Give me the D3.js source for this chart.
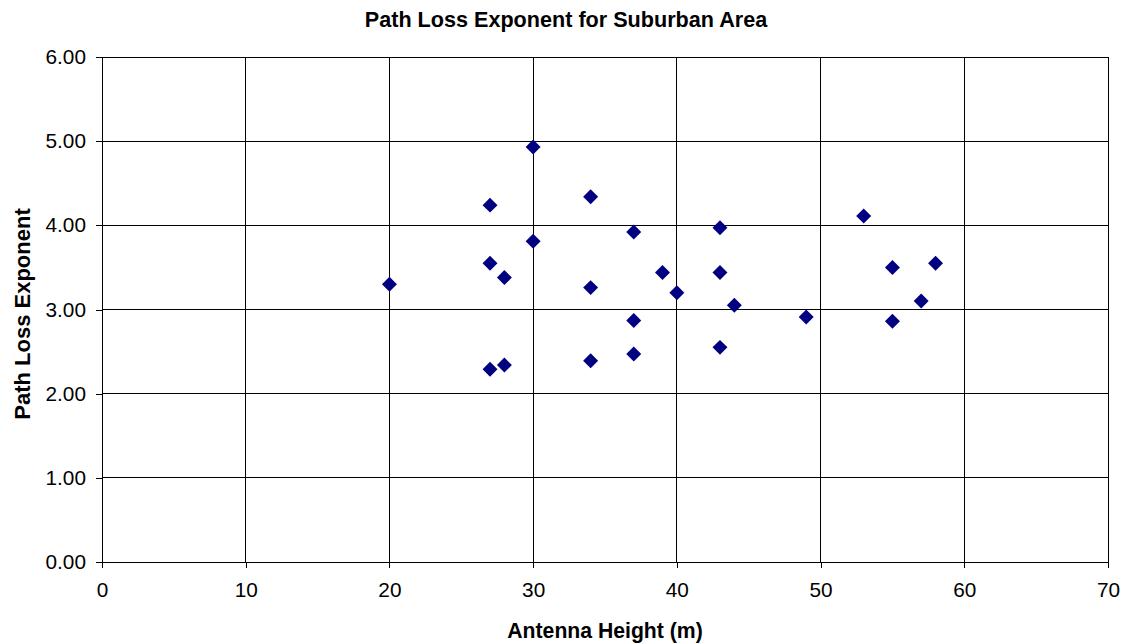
<!DOCTYPE html>
<html>
<head>
<meta charset="utf-8">
<script src="https://cdn.jsdelivr.net/npm/d3@7"></script>
<style>
  html, body { margin: 0; padding: 0; background: #fff; }
  svg { display: block; font-family: "Liberation Sans", Arial, sans-serif; }
</style>
</head>
<body>
<svg id="chart" width="1129" height="643"></svg>
<script>
// Measured path loss exponents versus antenna height (suburban survey)
const antennaHeights = [20, 27, 27, 27, 28, 28, 30, 30, 34, 34, 34, 37, 37, 37, 39, 40, 43, 43, 43, 44, 49, 53, 55, 55, 57, 58];
const pathLossExponents = [3.30, 4.24, 3.55, 2.29, 3.38, 2.34, 4.93, 3.81, 4.34, 3.26, 2.39, 3.92, 2.87, 2.47, 3.44, 3.20, 3.97, 3.44, 2.55, 3.05, 2.91, 4.11, 3.50, 2.86, 3.10, 3.55];
const xTicks = [0, 10, 20, 30, 40, 50, 60, 70];
const yTicks = [0, 1, 2, 3, 4, 5, 6];

const chartTitle = "Path Loss Exponent for Suburban Area";
const xTitle = "Antenna Height (m)";
const yTitle = "Path Loss Exponent";

const svg = d3.select("#chart");
const plot = { left: 102, top: 57, right: 1108, bottom: 562 };

const x = d3.scaleLinear().domain([0, 70]).range([plot.left, plot.right]);
const y = d3.scaleLinear().domain([0, 6]).range([plot.bottom, plot.top]);

// Grid lines
const grid = svg.append("g").attr("stroke", "#000").attr("stroke-width", 1).attr("shape-rendering", "crispEdges");
grid.selectAll(".vg").data(xTicks).join("line")
  .attr("x1", d => x(d)).attr("x2", d => x(d))
  .attr("y1", plot.top).attr("y2", plot.bottom);
grid.selectAll(".hg").data(yTicks).join("line")
  .attr("x1", plot.left).attr("x2", plot.right)
  .attr("y1", d => y(d)).attr("y2", d => y(d));

// Plot frame
svg.append("rect")
  .attr("x", plot.left).attr("y", plot.top)
  .attr("width", plot.right - plot.left).attr("height", plot.bottom - plot.top)
  .attr("fill", "none").attr("stroke", "#000").attr("stroke-width", 1)
  .attr("shape-rendering", "crispEdges");

// Axes
const xAxis = d3.axisBottom(x).tickValues(xTicks).tickFormat(d3.format("d")).tickSizeOuter(0).tickSizeInner(6).tickPadding(14);
const yAxis = d3.axisLeft(y).tickValues(yTicks).tickFormat(d3.format(".2f")).tickSizeOuter(0).tickSizeInner(6).tickPadding(10);

const gx = svg.append("g").attr("transform", `translate(0,${plot.bottom})`).call(xAxis);
const gy = svg.append("g").attr("transform", `translate(${plot.left},0)`).call(yAxis);
[gx, gy].forEach(g => {
  g.select(".domain").attr("stroke", "#000").attr("shape-rendering", "crispEdges");
  g.selectAll(".tick line").attr("stroke", "#000").attr("shape-rendering", "crispEdges");
  g.selectAll(".tick text").attr("fill", "#000").attr("font-size", 20.8)
    .attr("font-family", "'Liberation Sans', Arial, sans-serif");
});

// Points: navy diamonds
const diamond = d3.symbol().type(d3.symbolSquare).size(112);
svg.append("g").selectAll("path")
  .data(antennaHeights.map((h, i) => ({ h, e: pathLossExponents[i] })))
  .join("path")
  .attr("d", diamond)
  .attr("transform", d => `translate(${x(d.h)},${y(d.e)}) rotate(45)`)
  .attr("fill", "#000080");

// Titles
svg.append("text")
  .attr("x", 566).attr("y", 27)
  .attr("text-anchor", "middle")
  .attr("font-weight", "bold").attr("font-size", 21.6)
  .text(chartTitle);

svg.append("text")
  .attr("x", (plot.left + plot.right) / 2).attr("y", 638)
  .attr("text-anchor", "middle")
  .attr("font-weight", "bold").attr("font-size", 21.2)
  .text(xTitle);

svg.append("text")
  .attr("transform", `translate(30,314) rotate(-90)`)
  .attr("text-anchor", "middle")
  .attr("font-weight", "bold").attr("font-size", 22)
  .text(yTitle);
</script>
</body>
</html>
